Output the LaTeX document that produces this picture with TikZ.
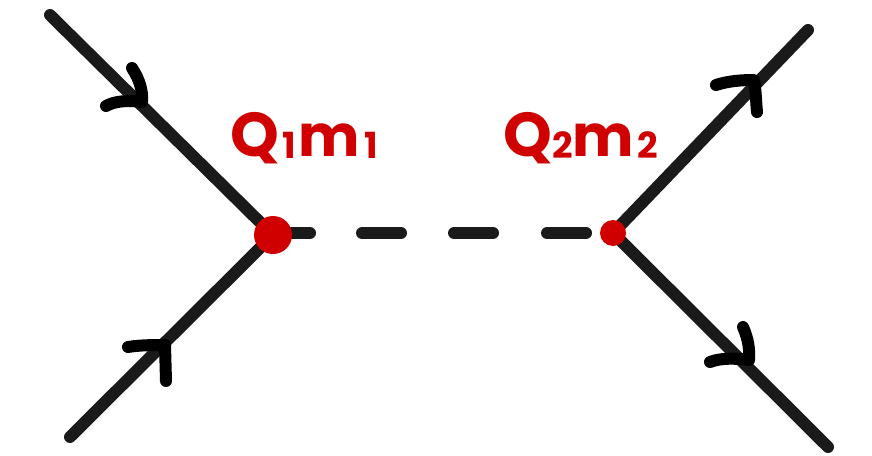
\documentclass[tikz,border=0pt]{standalone}
\usepackage{fontspec}
\newfontfamily\labelfont{Poppins}[UprightFont=* Bold]
\definecolor{ink}{HTML}{1A1A1A}
\definecolor{redink}{HTML}{D00000}
\newcommand{\bigQ}{{\fontsize{62}{62}\selectfont Q}}
\newcommand{\bigM}{{\fontsize{58}{58}\selectfont m}}
\newcommand{\subsc}[2]{\kern#2\raisebox{-0.2em}{\fontsize{36}{36}\selectfont #1}\kern#2}
\begin{document}
\begin{tikzpicture}[x=1pt,y=-1pt,
  leg/.style={draw=ink,line width=12pt,line cap=round},
  dashseg/.style={draw=ink,line width=12pt,line cap=round},
  chevron/.style={draw=black,line width=12pt,line cap=round,line join=round},
  vdot/.style={circle,fill=redink,inner sep=0pt},
  lbl/.style={text=redink,font=\labelfont,inner sep=0pt}]
\useasboundingbox (0,0) rectangle (872,455);
\fill[white] (0,0) rectangle (872,455);
% external points
\coordinate (a1) at (50,15);
\coordinate (a2) at (70,437);
\coordinate (b1) at (808,30);
\coordinate (b2) at (828,447);
\coordinate (v1) at (273,235);
\coordinate (v2) at (613,233);
% legs
\draw[leg] (a1) -- (v1);
\draw[leg] (a2) -- (v1);
\draw[leg] (v2) -- (b1);
\draw[leg] (v2) -- (b2);
% propagator dashes
\coordinate (d1a) at (292,233); \coordinate (d1b) at (310,233);
\coordinate (d2a) at (362,233); \coordinate (d2b) at (401,233);
\coordinate (d3a) at (454,233); \coordinate (d3b) at (493,233);
\coordinate (d4a) at (547,233); \coordinate (d4b) at (586,233);
\draw[dashseg] (d1a) -- (d1b);
\draw[dashseg] (d2a) -- (d2b);
\draw[dashseg] (d3a) -- (d3b);
\draw[dashseg] (d4a) -- (d4b);
% arrows
\draw[chevron] (132,68) .. controls (140,80) and (143,92) .. (142,102) .. controls (128,100) and (115,101) .. (106,106);
\draw[chevron] (128,347) .. controls (140,345) and (155,345) .. (165,345) -- (166,381);
\draw[chevron] (716,85) .. controls (728,81) and (742,80) .. (754,80) .. controls (756,92) and (756,102) .. (757,112);
\draw[chevron] (743,327) .. controls (748,338) and (750,350) .. (749,360) .. controls (735,358) and (720,358) .. (710,362);
% vertices
\node[vdot,minimum size=38pt] (n1) at (v1) {};
\node[vdot,minimum size=26pt] (n2) at (v2) {};
% labels
\node[lbl,anchor=base west] (l1) at (230,156) {\bigQ\subsc{1}{3pt}\bigM\subsc{1}{4pt}};
\node[lbl,anchor=base west] (l2) at (503,156) {\bigQ\subsc{2}{0pt}\bigM\subsc{2}{3pt}};
\end{tikzpicture}
\end{document}
